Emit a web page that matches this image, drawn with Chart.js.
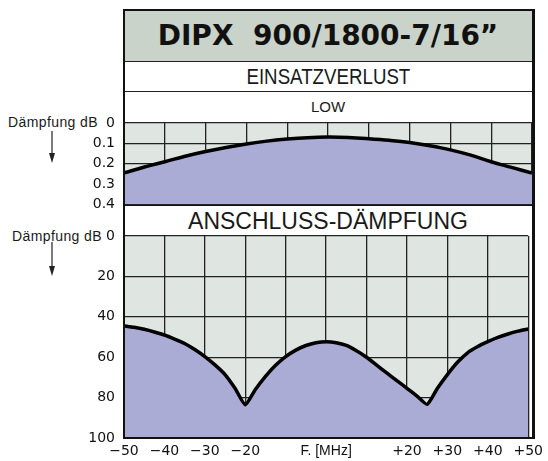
<!DOCTYPE html>
<html><head><meta charset="utf-8">
<script src="https://cdn.jsdelivr.net/npm/chart.js@4/dist/chart.umd.min.js"></script>
<style>
html,body{margin:0;padding:0;background:#fff;}
#wrap{position:relative;width:548px;height:461px;overflow:hidden;font-family:"Liberation Sans",Arial,sans-serif;color:#1a1a1a;}
canvas{position:absolute;left:0;top:0;z-index:1;}
.band{position:absolute;left:124px;width:408px;text-align:center;white-space:pre;}
#title{top:11px;height:50px;line-height:50px;background:#c9d3c9;font-family:"DejaVu Sans",sans-serif;font-weight:bold;font-size:28px;border-bottom:1px solid #222;color:#111;}
#ein{top:62px;height:29px;line-height:30px;font-size:22px;border-bottom:1px solid #222;}
#ein span{display:inline-block;transform:scaleX(0.85);}
#low{top:92px;height:31px;line-height:29px;font-size:15px;}
#ans{top:205px;height:31px;line-height:32px;font-size:23px;}
#frame{position:absolute;left:123px;top:9px;width:412px;height:430px;box-sizing:border-box;border:2px solid #111;border-right-width:3px;z-index:2;}
.lab{position:absolute;font-size:14px;letter-spacing:0.4px;white-space:nowrap;}
svg{position:absolute;z-index:2;}
</style></head>
<body><div id="wrap">
<div class="band" id="title">DIPX  900/1800-7/16”</div>
<div class="band" id="ein"><span>EINSATZVERLUST</span></div>
<div class="band" id="low">LOW</div>
<div class="band" id="ans">ANSCHLUSS-DÄMPFUNG</div>
<canvas id="c1" width="548" height="461"></canvas>
<canvas id="c2" width="548" height="461"></canvas>
<div id="frame"></div>
<div class="lab" style="left:8px;top:114px;">Dämpfung dB</div>
<div class="lab" style="left:12px;top:228px;">Dämpfung dB</div>
<svg style="left:46px;top:131px" width="12" height="34"><line x1="6" y1="0" x2="6" y2="24" stroke="#222" stroke-width="1.2"/><polygon points="3,22 9,22 6,32" fill="#222"/></svg>
<svg style="left:46px;top:242px" width="12" height="36"><line x1="6" y1="0" x2="6" y2="26" stroke="#222" stroke-width="1.2"/><polygon points="3,24 9,24 6,34" fill="#222"/></svg>
</div>
<script>
// Insertion loss (top panel), dB
const freqTop = [-50,-45,-40,-35,-30,-25,-20,-15,-10,-5,0,5,10,15,20,25,30,35,40,45,50];
const insertionLoss = [0.245,0.216,0.19,0.163,0.14,0.12,0.103,0.089,0.079,0.072,0.069,0.071,0.077,0.085,0.096,0.112,0.132,0.158,0.19,0.218,0.246];
// Return loss (bottom panel), dB
const freqBottom = [-50,-47.5,-45,-42.5,-40,-37.5,-35,-32.5,-30,-27.5,-25,-22.5,-20,-17.5,-15,-12.5,-10,-7.5,-5,-2.5,0,2.5,5,7.5,10,12.5,15,17.5,20,22.5,25,27.5,30,32.5,35,37.5,40,42.5,45,47.5,50];
const returnLoss = [44.5,45.2,46.2,47.5,49,51,53.2,56.2,59.7,63.8,68.6,75.5,83.5,76,69.5,64,59.7,56.5,54.2,52.8,52.3,52.8,54.2,56.8,60,63.9,67.8,71.6,75.4,79.3,83.3,75.5,68.6,62.5,57.8,54.7,52.3,50.2,48.5,47.1,46];
const yTopTicks = ['0','0.1','0.2','0.3','0.4'];
const yBottomTicks = ['0','20','40','60','80','100'];
const xTickLabels = ['\u221250','\u221240','\u221230','\u221220','','F. [MHz]','','+20','+30','+40','+50'];

const bgPlugin = {id:'bg', beforeDraw(chart){const {ctx, chartArea:a}=chart; ctx.save(); ctx.fillStyle='#dfe5e0'; ctx.fillRect(a.left,a.top,a.right-a.left,a.bottom-a.top); ctx.restore();}};
const gridOpt = {color:'#222', lineWidth:1.3, drawTicks:false};
const tickFont = {family:'DejaVu Sans', size:14};

new Chart(document.getElementById('c1'), {
  type:'line',
  data:{datasets:[{data: freqTop.map((x,i)=>({x, y: insertionLoss[i]})), borderColor:'#000', borderWidth:3.5, backgroundColor:'#abacd6', fill:{value:0.4}, pointRadius:0, tension:0.4}]},
  options:{responsive:false, animation:false, events:[],
    plugins:{legend:{display:false}, tooltip:{enabled:false}},
    layout:{padding:{left:0,right:16,top:123,bottom:256.5}},
    scales:{
      x:{type:'linear',min:-50,max:50,z:1, ticks:{stepSize:10, display:false}, grid:gridOpt, border:{display:true,color:'#111',width:2}, afterFit(s){s.height=0;}},
      y:{reverse:true,min:0,max:0.4,z:1, ticks:{stepSize:0.1, callback:(v)=>yTopTicks[Math.round(v*10)], font:tickFont, color:'#111', padding:9}, grid:gridOpt, border:{display:true,color:'#111',width:2}, afterFit(s){s.width=124;}}
    }},
  plugins:[bgPlugin]
});

new Chart(document.getElementById('c2'), {
  type:'line',
  data:{datasets:[{data: freqBottom.map((x,i)=>({x, y: returnLoss[i]})), borderColor:'#000', borderWidth:3.5, backgroundColor:'#abacd6', fill:{value:100}, pointRadius:0, tension:0.2, borderJoinStyle:'miter'}]},
  options:{responsive:false, animation:false, events:[],
    plugins:{legend:{display:false}, tooltip:{enabled:false}},
    layout:{padding:{left:0,right:16,top:236,bottom:0}},
    scales:{
      x:{type:'linear',min:-50,max:50,z:1, ticks:{stepSize:10, autoSkip:false, maxRotation:0, callback:(v)=>xTickLabels[Math.round((v+50)/10)], color:'#111', padding:5,
          font:(c)=> (c.tick && c.tick.value===0) ? {family:'Liberation Sans', size:14} : tickFont},
        grid:gridOpt, border:{display:true,color:'#111',width:2}, afterFit(s){s.height=23;}},
      y:{reverse:true,min:0,max:100,z:1, ticks:{stepSize:20, callback:(v)=>yBottomTicks[Math.round(v/20)], font:tickFont, color:'#111', padding:9}, grid:gridOpt, border:{display:true,color:'#111',width:2}, afterFit(s){s.width=124;}}
    }},
  plugins:[bgPlugin]
});
</script>
</body></html>
